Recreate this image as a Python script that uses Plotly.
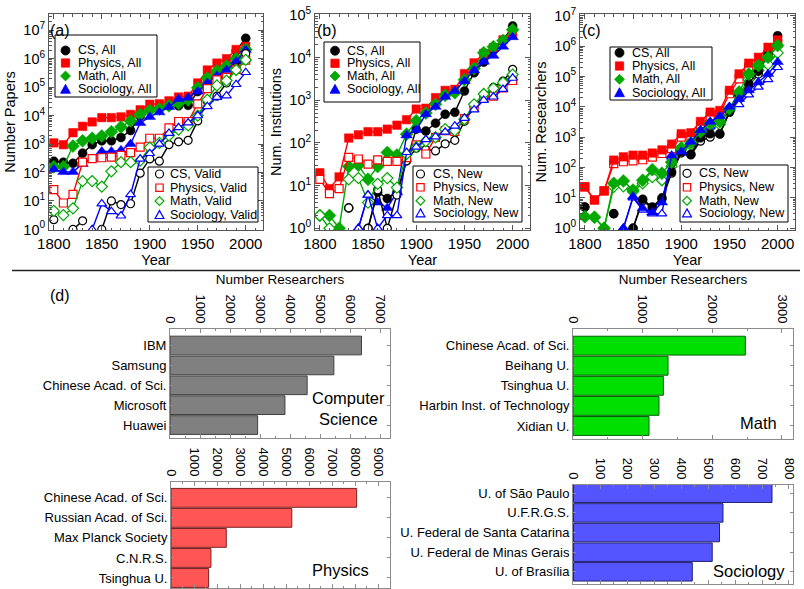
import plotly.graph_objects as go

W, H = 804, 589
FONT = "Liberation Sans, Arial, Helvetica, sans-serif"

# ---------------- data ----------------
years = [1800, 1810, 1820, 1830, 1840, 1850, 1860, 1870, 1880, 1890, 1900,
         1910, 1920, 1930, 1940, 1950, 1960, 1970, 1980, 1990, 2000]

# (a) Number of papers
cs_all_a = [250, 230, 210, 480, 950, 1300, 1300, 1700, 3000, 9500, 17000, 19000, 22000, 22000, 23000, 70000, 150000, 280000, 550000, 1900000, 5200000]
phys_all_a = [1100, 950, 2500, 4200, 6000, 8500, 8500, 9000, 11000, 16000, 25000, 26000, 33000, 45000, 48000, 140000, 400000, 700000, 1000000, 2100000, 2700000]
math_all_a = [160, 160, 850, 1300, 1600, 1900, 2700, 4000, 6500, 11000, 15000, 17000, 22000, 27000, 35000, 95000, 210000, 370000, 550000, 1000000, 2100000]
soc_all_a = [130, 105, 105, 200, 300, 550, 550, 600, 1000, 5500, 9000, 13000, 20000, 38000, 42000, 70000, 140000, 250000, 400000, 800000, 2000000]
cs_valid_a = [2.2, None, 1, 2, None, 1, 10, 7.5, 8, 95, 300, 250, 950, 1200, 1350, 6500, 32000, 48000, 140000, 480000, 1500000]
phys_valid_a = [25, 8.5, 17, 230, 310, 330, 350, 400, 500, 780, 1600, 1600, 3700, 6200, 6200, 26000, 88000, 180000, 220000, 420000, 880000]
math_valid_a = [4.5, 3.2, 5.5, 50, 50, 32, 110, 230, 230, 260, 750, 1100, 2000, 3200, 4500, 10000, 36000, 115000, 170000, 400000, 900000]
soc_valid_a = [None, None, None, None, 1, 8, 4.3, 3, 17, 300, 470, 1000, 2400, 3800, 5600, 10000, 21000, 44000, 50000, 125000, 330000]

# (b) Number of institutions
cs_all_b = [None, None, None, 3, None, 1, 7, 5, 7, 38, 210, 190, 290, 470, 520, 1650, 4400, 7800, 15000, 25000, 55000]
phys_all_b = [20, 8.5, 16, 130, 155, 183, 183, 210, 260, 350, 620, 650, 1150, 1700, 1800, 4200, 7500, 12500, 17000, 26000, 37000]
math_all_b = [2, 2, 1, 28, 30, 14, 28, 60, 52, 160, 330, 500, 800, 1300, 1500, 3000, 5500, 13000, 18000, 25000, 45000]
soc_all_b = [None, None, None, None, 1, 6, 4, 3, 7, 150, 200, 470, 700, 1200, 1650, 2800, 5000, 8000, 11000, 18000, 30000]
cs_new_b = [None, None, None, 3, None, 1, 8, 1, 6, 38, 75, 70, 65, 95, 115, 320, 700, 1250, 2000, 2800, 5300]
phys_new_b = [14, 6.5, 8.5, 46, 42, 32, 40, 37, 37, 45, 90, 55, 135, 195, 185, 370, 700, 1150, 1250, 1950, 2900]
math_new_b = [2, 1, None, 14, 15, 4, 11, 15, 9, 55, 80, 110, 135, 210, 195, 360, 800, 1400, 1900, 2600, 4000]
soc_new_b = [None, None, None, None, 1, 6, 1, 2, 2, 60, 80, 120, 140, 180, 250, 380, 600, 1000, 1200, 1800, 3300]

# (c) Number of researchers
cs_all_c = [5, None, None, 3, None, 1, 9, 5, 10, 72, 330, 275, 950, 1300, 1300, 7000, 24000, 58000, 150000, 580000, 2200000]
phys_all_c = [23, 8.5, 17, 175, 225, 255, 255, 300, 380, 590, 1300, 1400, 3300, 6700, 7600, 35000, 122000, 275000, 430000, 920000, 1600000]
math_all_c = [2.4, 2.3, 1, 30, 36, 18, 38, 85, 65, 150, 450, 650, 1500, 2800, 3200, 8700, 31000, 120000, 230000, 430000, 1050000]
soc_all_c = [None, None, None, None, 1, 11, 4.5, 3.3, 7, 250, 330, 700, 1700, 3200, 4900, 10000, 18000, 35000, 65000, 120000, 300000]
cs_new_c = [5, None, None, 3, None, 1, 8, 4.5, 9, 65, 300, 260, 740, 1000, 1250, 6500, 20000, 50000, 120000, 450000, 1600000]
phys_new_c = [23, 8.5, 17, 135, 155, 165, 180, 220, 290, 420, 1000, 1070, 2400, 4900, 5900, 27000, 83000, 200000, 260000, 550000, 1200000]
math_new_c = [2.4, 2.3, 1, 23, 24, 16, 30, 48, 38, 110, 380, 550, 1200, 2200, 2600, 7500, 25000, 80000, 160000, 250000, 600000]
soc_new_c = [None, None, None, None, 1, 10, 4, 3, 3, 220, 300, 600, 1300, 2200, 3500, 8000, 12000, 25000, 45000, 80000, 200000]

# (d) top institutions by number of researchers
cs_inst = ["IBM", "Samsung", "Chinese Acad. of Sci.", "Microsoft", "Huawei"]
cs_res = [6380, 5460, 4570, 3830, 2920]
math_inst = ["Chinese Acad. of Sci.", "Beihang U.", "Tsinghua U.", "Harbin Inst. of Technology", "Xidian U."]
math_res = [2474, 1364, 1297, 1234, 1091]
phys_inst = ["Chinese Acad. of Sci.", "Russian Acad. of Sci.", "Max Planck Society", "C.N.R.S.", "Tsinghua U."]
phys_res = [8060, 5245, 2400, 1734, 1633]
soc_inst = ["U. of São Paulo", "U.F.R.G.S.", "U. Federal de Santa Catarina", "U. Federal de Minas Gerais", "U. of Brasília"]
soc_res = [737, 555, 542, 515, 441]

log_ticks_papers = [0, 1, 2, 3, 4, 5, 6, 7]
log_ticks_inst = [0, 1, 2, 3, 4, 5]
log_ticks_res = [0, 1, 2, 3, 4, 5, 6, 7]
year_ticks = [1800, 1850, 1900, 1950, 2000]

# ---------------- style ----------------
BLACK, RED, GREEN, BLUE = "#000000", "#ff0000", "#00a800", "#0000ff"
SYM = {"CS": "circle", "Physics": "square", "Math": "diamond", "Sociology": "triangle-up"}
COL = {"CS": BLACK, "Physics": RED, "Math": GREEN, "Sociology": BLUE}
FSIZE = {"circle": 9, "square": 8.5, "diamond": 10, "triangle-up": 10}
OSIZE = {"circle": 8, "square": 8, "diamond": 8.5, "triangle-up": 8.5}
FIELDS = ["CS", "Physics", "Math", "Sociology"]


def px_x(p):
    return p / W


def px_y(p):
    return 1 - p / H


fig = go.Figure()

panels = [
    dict(ax="", dx=(49, 263), yr=[-0.02, 7.57], ticks=log_ticks_papers, title="Number Papers",
         all=[cs_all_a, phys_all_a, math_all_a, soc_all_a],
         sub=[cs_valid_a, phys_valid_a, math_valid_a, soc_valid_a], subname="Valid", sub_on_top=True),
    dict(ax="2", dx=(315, 530), yr=[-0.04, 5.02], ticks=log_ticks_inst, title="Num. Institutions",
         all=[cs_all_b, phys_all_b, math_all_b, soc_all_b],
         sub=[cs_new_b, phys_new_b, math_new_b, soc_new_b], subname="New", sub_on_top=True),
    dict(ax="3", dx=(580, 795), yr=[-0.06, 7.06], ticks=log_ticks_res, title="Num. Researchers",
         all=[cs_all_c, phys_all_c, math_all_c, soc_all_c],
         sub=[cs_new_c, phys_new_c, math_new_c, soc_new_c], subname="New", sub_on_top=False),
]

AXC = "#555555"
top_ydom = [px_y(230), px_y(14)]

for p in panels:
    xa, ya = "x" + p["ax"], "y" + p["ax"]

    def add_group(vals_list, filled, subname):
        for f, vals in zip(FIELDS, vals_list):
            sym = SYM[f]
            c = COL[f]
            if filled:
                mk = dict(symbol=sym, size=FSIZE[sym], color=c, line=dict(color=c, width=0.5))
                nm = f + ", All"
            else:
                mk = dict(symbol=sym, size=OSIZE[sym], color="white", line=dict(color=c, width=1.2))
                nm = f + ", " + subname
            fig.add_trace(go.Scatter(x=years, y=vals, mode="lines+markers", name=nm,
                                     line=dict(color=c, width=1.4), marker=mk,
                                     xaxis=xa, yaxis=ya, showlegend=False))

    if p["sub_on_top"]:
        add_group(p["all"], True, "")
        add_group(p["sub"], False, p["subname"])
    else:
        add_group(p["sub"], False, p["subname"])
        add_group(p["all"], True, "")

    xkey = "xaxis" + p["ax"]
    ykey = "yaxis" + p["ax"]
    fig.update_layout({
        xkey: dict(domain=[px_x(p["dx"][0]), px_x(p["dx"][1])], anchor=ya, range=[1795, 2018],
                   automargin=False,
                   tickvals=year_ticks, ticks="inside", ticklen=5, tickcolor=AXC,
                   minor=dict(ticks="inside", ticklen=2.5, dtick=10, tickcolor=AXC),
                   mirror="ticks", showline=True, linecolor=AXC, linewidth=1,
                   showgrid=False, zeroline=False, tickfont=dict(size=15),
                   title=dict(text="Year", font=dict(size=14.5), standoff=2)),
        ykey: dict(domain=top_ydom, anchor=xa, type="log", range=p["yr"], automargin=False,
                   tickvals=[10 ** k for k in p["ticks"]],
                   ticktext=["10<sup>%d</sup>" % k for k in p["ticks"]],
                   ticks="inside", ticklen=5, tickcolor=AXC,
                   minor=dict(ticks="inside", ticklen=2.5, dtick="D1", tickcolor=AXC),
                   mirror="ticks", showline=True, linecolor=AXC, linewidth=1,
                   showgrid=False, zeroline=False, tickfont=dict(size=14.5),
                   title=dict(text=p["title"], font=dict(size=14.5), standoff=4)),
    })

# ---------------- bar panels ----------------
BARC = "#8c8c8c"
bars = [
    dict(ax="4", names=cs_inst, vals=cs_res, fill="#808080", edge="#404040",
         dx=(170, 390), dy=(329, 438), xr=[0, 7330], dt=1000, mdt=500, yr=[4.65, -0.83],
         title="Number Researchers"),
    dict(ax="5", names=math_inst, vals=math_res, fill="#00e000", edge="#006000",
         dx=(573, 793), dy=(329, 439), xr=[0, 3158], dt=1000, mdt=500, yr=[4.65, -0.83],
         title="Number Researchers"),
    dict(ax="6", names=phys_inst, vals=phys_res, fill="#ff5555", edge="#7a2020",
         dx=(171, 390), dy=(482, 588), xr=[0, 9508], dt=1000, mdt=500, yr=[4.5, -0.79],
         title=""),
    dict(ax="7", names=soc_inst, vals=soc_res, fill="#5555ff", edge="#202070",
         dx=(573, 793), dy=(485, 584), xr=[-2, 815], dt=100, mdt=50, yr=[4.62, -0.42],
         title=""),
]

for b in bars:
    xa, ya = "x" + b["ax"], "y" + b["ax"]
    fig.add_trace(go.Bar(x=b["vals"], y=b["names"], orientation="h",
                         marker=dict(color=b["fill"], line=dict(color=b["edge"], width=1)),
                         xaxis=xa, yaxis=ya, showlegend=False))
    fig.update_layout({
        "xaxis" + b["ax"]: dict(domain=[px_x(b["dx"][0]), px_x(b["dx"][1])], anchor=ya, side="top",
                                automargin=False,
                                range=b["xr"], dtick=b["dt"], tick0=0, tickangle=90,
                                ticks="inside", ticklen=4, tickcolor=BARC,
                                minor=dict(ticks="inside", ticklen=2, dtick=b["mdt"], tickcolor=BARC),
                                mirror="ticks", showline=True, linecolor=BARC, linewidth=1,
                                showgrid=False, zeroline=False, tickfont=dict(size=13),
                                title=dict(text=b["title"], font=dict(size=13.5), standoff=6)),
        "yaxis" + b["ax"]: dict(domain=[px_y(b["dy"][1]), px_y(b["dy"][0])], anchor=xa,
                                automargin=False,
                                type="category", range=b["yr"],
                                ticks="inside", ticklen=3, tickcolor=BARC,
                                mirror="ticks", showline=True, linecolor=BARC, linewidth=1,
                                showgrid=False, zeroline=False, tickfont=dict(size=13)),
    })

# ---------------- legends (boxes, keys, labels) ----------------
shapes = []
annotations = []

legends = [
    dict(box=(55, 35, 157, 97), gx=65.5, tx=76, rows=[50.5, 63, 76, 89.3], filled=True, sub="All"),
    dict(box=(148, 167, 258, 222), gx=159.5, tx=168, rows=[174, 187.7, 201, 215], filled=False, sub="Valid"),
    dict(box=(324, 42, 420, 102), gx=335, tx=345, rows=[50.7, 63.3, 76, 89.3], filled=True, sub="All"),
    dict(box=(413, 166, 522, 222), gx=420.5, tx=431, rows=[174, 187.3, 200.7, 213.3], filled=False, sub="New"),
    dict(box=(610, 47, 712, 100), gx=619.5, tx=630, rows=[52.7, 66, 79.3, 92.7], filled=True, sub="All"),
    dict(box=(680, 165, 788, 222), gx=687, tx=697, rows=[173.3, 187.3, 200.7, 213.3], filled=False, sub="New"),
]


def key_shape(sym, cx, cy, r, color, filled):
    fc = color if filled else "white"
    ln = dict(color=color, width=0.8 if filled else 1.2)
    if sym == "circle":
        return dict(type="circle", xref="paper", yref="paper", x0=px_x(cx - r), x1=px_x(cx + r),
                    y0=px_y(cy + r), y1=px_y(cy - r), fillcolor=fc, line=ln)
    if sym == "square":
        r2 = r * 0.92
        return dict(type="rect", xref="paper", yref="paper", x0=px_x(cx - r2), x1=px_x(cx + r2),
                    y0=px_y(cy + r2), y1=px_y(cy - r2), fillcolor=fc, line=ln)
    if sym == "diamond":
        r2 = r * 1.1
        pts = [(cx, cy - r2), (cx + r2, cy), (cx, cy + r2), (cx - r2, cy)]
    else:
        r2 = r * 1.1
        pts = [(cx, cy - r2), (cx + r2, cy + r2 * 0.8), (cx - r2, cy + r2 * 0.8)]
    path = "M " + " L ".join("%.5f,%.5f" % (px_x(a), px_y(b)) for a, b in pts) + " Z"
    return dict(type="path", xref="paper", yref="paper", path=path, fillcolor=fc, line=ln)


for lg in legends:
    x0, y0, x1, y1 = lg["box"]
    shapes.append(dict(type="rect", xref="paper", yref="paper", x0=px_x(x0), x1=px_x(x1),
                       y0=px_y(y1), y1=px_y(y0), fillcolor="white", line=dict(color="black", width=1)))
    for f, ry in zip(FIELDS, lg["rows"]):
        r = 4.5 if lg["filled"] else 4.0
        shapes.append(key_shape(SYM[f], lg["gx"], ry, r, COL[f], lg["filled"]))
        annotations.append(dict(text=f + ", " + lg["sub"], xref="paper", yref="paper",
                                x=px_x(lg["tx"]), y=px_y(ry), xanchor="left", yanchor="middle",
                                showarrow=False, font=dict(size=12.5, color="black")))

# separator line
shapes.append(dict(type="line", xref="paper", yref="paper", x0=px_x(12), x1=px_x(800),
                   y0=px_y(270.5), y1=px_y(270.5), line=dict(color="#222222", width=1.5)))

labels = [
    ("(a)", 60, 30, 16), ("(b)", 327, 30, 16), ("(c)", 591, 30, 16), ("(d)", 60, 295, 16),
    ("Computer<br>Science", 348, 408.5, 16.5), ("Math", 758, 423, 16.5),
    ("Physics", 340, 570, 16.5), ("Sociology", 749, 571, 16.5),
]
for t, x, y, s in labels:
    annotations.append(dict(text=t, xref="paper", yref="paper", x=px_x(x), y=px_y(y),
                            xanchor="center", yanchor="middle", showarrow=False,
                            font=dict(size=s, color="black")))

fig.update_layout(
    width=W, height=H, margin=dict(l=0, r=0, t=0, b=0, autoexpand=False),
    paper_bgcolor="white", plot_bgcolor="white",
    font=dict(family=FONT, color="black"),
    showlegend=False, bargap=0.06,
    shapes=shapes, annotations=annotations,
)

fig.write_html("out.html", config={"displayModeBar": False},
               post_script="document.body.style.margin='0px';document.body.style.overflow='hidden';")
